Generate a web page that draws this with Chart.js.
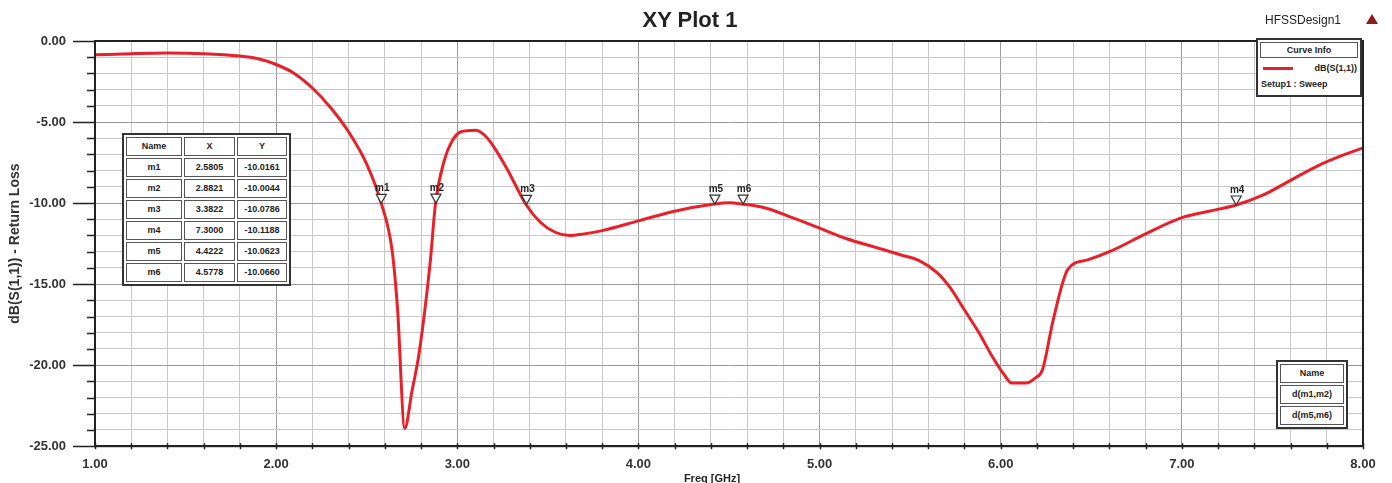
<!DOCTYPE html>
<html>
<head>
<meta charset="utf-8">
<script src="https://cdn.jsdelivr.net/npm/chart.js@4.4.1/dist/chart.umd.min.js"></script>
<style>
  html, body { margin: 0; padding: 0; background: #fff; overflow: hidden; }
  #wrap { position: relative; width: 1392px; height: 483px; font-family: "Liberation Sans", Arial, sans-serif; color: #222; }
  #plot { position: absolute; left: 0; top: 0; }
  .plotTitle { position: absolute; left: 0; width: 1380px; top: 7px; text-align: center; font-size: 22px; font-weight: bold; }
  .design { position: absolute; left: 1265px; top: 13px; font-size: 12px; }
  .tri { position: absolute; left: 1366px; top: 14px; width: 0; height: 0;
         border-left: 6px solid transparent; border-right: 6px solid transparent; border-bottom: 10px solid #8b1a1a; }
  .xTitle { position: absolute; left: 652px; width: 120px; top: 472px; text-align: center; font-size: 11px; font-weight: bold; }
  table.box { position: absolute; border: 2px solid #333; border-collapse: separate; border-spacing: 2px;
              background: #fff; font-size: 9px; font-weight: bold; }
  table.box td { border: 1px solid #555; height: 17px; line-height: 17px; padding: 0 2px; text-align: center; white-space: nowrap; }
  .curveInfo { position: absolute; left: 1256px; top: 38px; width: 102px; height: 55px; border: 2px solid #333;
               background: #fff; font-size: 9px; font-weight: bold; }
  .curveInfo .hd { margin: 2px; border: 1px solid #555; height: 14px; line-height: 14px; text-align: center; }
  .curveInfo .row { position: relative; height: 16px; line-height: 16px; }
  .curveInfo .swatch { position: absolute; left: 5px; top: 7px; width: 30px; height: 3px; background: #e8202a; }
  .curveInfo .lbl { position: absolute; right: 3px; top: 0; }
  .curveInfo .setup { padding-left: 3px; height: 16px; line-height: 16px; }
</style>
</head>
<body>
<div id="wrap">
  <canvas id="plot" width="1392" height="483"></canvas>
  <div class="plotTitle">XY Plot 1</div>
  <div class="design">HFSSDesign1</div>
  <div class="tri"></div>
  <div class="xTitle">Freq [GHz]</div>
  <table class="box" id="markerTable" style="left:122px; top:133px;"></table>
  <div class="curveInfo">
    <div class="hd">Curve Info</div>
    <div class="row"><span class="swatch"></span><span class="lbl">dB(S(1,1))</span></div>
    <div class="setup">Setup1 : Sweep</div>
  </div>
  <table class="box" id="deltaTable" style="left:1276px; top:360px;"></table>
</div>
<script>
// S11 sweep
const freq = [1.00, 1.20, 1.40, 1.60, 1.80, 1.90, 2.00, 2.10, 2.20, 2.30, 2.40, 2.50, 2.58, 2.64, 2.67, 2.71,
              2.75, 2.79, 2.85, 2.88, 2.93, 2.97, 3.02, 3.10, 3.15, 3.20, 3.28, 3.38, 3.46, 3.54, 3.62, 3.70,
              3.80, 4.00, 4.20, 4.42, 4.50, 4.58, 4.70, 4.85, 5.00, 5.15, 5.30, 5.45, 5.55, 5.65, 5.72, 5.80,
              5.88, 5.95, 6.02, 6.06, 6.14, 6.19, 6.23, 6.29, 6.37, 6.48, 6.62, 6.80, 7.00, 7.15, 7.30, 7.45,
              7.60, 7.75, 7.90, 8.00];
const s11 = [-0.85, -0.78, -0.74, -0.78, -0.93, -1.10, -1.45, -2.0, -2.9, -4.1, -5.6, -7.6, -10.0, -12.9, -16.5, -23.9,
             -21.6, -19.2, -13.7, -10.0, -7.3, -6.2, -5.6, -5.5, -5.8, -6.5, -8.0, -10.1, -11.2, -11.8, -12.0, -11.9,
             -11.7, -11.1, -10.5, -10.06, -9.98, -10.07, -10.3, -10.9, -11.55, -12.2, -12.7, -13.2, -13.55, -14.3, -15.2, -16.6,
             -18.0, -19.4, -20.6, -21.1, -21.1, -20.8, -20.3, -17.2, -14.1, -13.5, -12.9, -11.9, -10.9, -10.5, -10.12, -9.5,
             -8.6, -7.7, -7.0, -6.6];

// markers
const markerNames = ['m1', 'm2', 'm3', 'm4', 'm5', 'm6'];
const markerX = [2.5805, 2.8821, 3.3822, 7.3000, 4.4222, 4.5778];
const markerY = [-10.0161, -10.0044, -10.0786, -10.1188, -10.0623, -10.0660];
const deltaNames = ['d(m1,m2)', 'd(m5,m6)'];

const isWhole = (v, step) => Math.abs(v / step - Math.round(v / step)) < 1e-6;

// marker table
let html = '<tr><td style="width:50px">Name</td><td style="width:45px">X</td><td style="width:44px">Y</td></tr>';
markerNames.forEach((n, i) => {
    html += `<tr><td>${n}</td><td>${markerX[i].toFixed(4)}</td><td>${markerY[i].toFixed(4)}</td></tr>`;
});
document.getElementById('markerTable').innerHTML = html;

let dhtml = '<tr><td style="width:58px">Name</td></tr>';
deltaNames.forEach(n => { dhtml += `<tr><td>${n}</td></tr>`; });
document.getElementById('deltaTable').innerHTML = dhtml;

// frame, tick marks and marker triangles
const hfssExtras = {
    id: 'hfssExtras',
    afterDraw(chart) {
        const { ctx, chartArea: a, scales: { x, y } } = chart;
        ctx.save();
        ctx.strokeStyle = '#222';
        ctx.lineWidth = 2;
        ctx.strokeRect(a.left, a.top, a.right - a.left, a.bottom - a.top);

        ctx.lineWidth = 1.5;
        y.ticks.forEach(t => {
            const py = Math.round(y.getPixelForValue(t.value)) + 0.5;
            const len = isWhole(t.value, 5) ? 22 : 8;
            ctx.beginPath();
            ctx.moveTo(a.left - len, py);
            ctx.lineTo(a.left, py);
            ctx.stroke();
        });
        x.ticks.forEach(t => {
            const px = Math.round(x.getPixelForValue(t.value)) + 0.5;
            ctx.beginPath();
            ctx.moveTo(px, a.bottom - 3);
            ctx.lineTo(px, a.bottom + 3);
            ctx.stroke();
        });

        ctx.font = 'bold 10px "Liberation Sans", Arial, sans-serif';
        ctx.textAlign = 'center';
        ctx.textBaseline = 'bottom';
        markerNames.forEach((n, i) => {
            const px = x.getPixelForValue(markerX[i]);
            const py = y.getPixelForValue(markerY[i]);
            ctx.beginPath();
            ctx.moveTo(px, py);
            ctx.lineTo(px - 5, py - 9);
            ctx.lineTo(px + 5, py - 9);
            ctx.closePath();
            ctx.fillStyle = '#fff';
            ctx.fill();
            ctx.strokeStyle = '#333';
            ctx.lineWidth = 1.2;
            ctx.stroke();
            ctx.fillStyle = '#222';
            ctx.fillText(n, px + 1, py - 10);
        });
        ctx.restore();
    }
};

const points = freq.map((f, i) => ({ x: f, y: s11[i] }));

new Chart(document.getElementById('plot').getContext('2d'), {
    type: 'line',
    data: {
        datasets: [{
            label: 'dB(S(1,1))',
            data: points,
            borderColor: '#e8202a',
            borderWidth: 3,
            pointRadius: 0,
            fill: false,
            cubicInterpolationMode: 'monotone'
        }]
    },
    options: {
        responsive: false,
        animation: false,
        devicePixelRatio: 1,
        layout: { padding: { top: 41, right: 29, left: 0, bottom: 0 } },
        plugins: { legend: { display: false }, tooltip: { enabled: false }, title: { display: false } },
        scales: {
            x: {
                type: 'linear',
                min: 1,
                max: 8,
                afterFit: s => { s.height = 31; },
                ticks: {
                    stepSize: 0.2,
                    autoSkip: false,
                    maxRotation: 0,
                    padding: 10,
                    color: '#333',
                    font: { size: 13, weight: 'bold', family: '"Liberation Sans", Arial, sans-serif' },
                    callback: v => isWhole(v, 1) ? Number(v).toFixed(2) : ''
                },
                grid: {
                    drawTicks: false,
                    lineWidth: 1,
                    color: c => isWhole(c.tick.value, 1) ? '#9a9a9a' : '#c8c8c8'
                },
                border: { display: true, color: '#222', width: 2 }
            },
            y: {
                min: -25,
                max: 0,
                afterFit: s => { s.width = 95; },
                ticks: {
                    stepSize: 1,
                    autoSkip: false,
                    padding: 29,
                    color: '#333',
                    font: { size: 13, weight: 'bold', family: '"Liberation Sans", Arial, sans-serif' },
                    callback: v => isWhole(v, 5) ? Number(v).toFixed(2) : ''
                },
                grid: {
                    drawTicks: false,
                    lineWidth: 1,
                    color: c => isWhole(c.tick.value, 5) ? '#9a9a9a' : '#c8c8c8'
                },
                border: { display: true, color: '#222', width: 2 },
                title: {
                    display: true,
                    text: 'dB(S(1,1)) - Return Loss',
                    color: '#333',
                    padding: { top: 7, bottom: 0 },
                    font: { size: 14, weight: 'bold', family: '"Liberation Sans", Arial, sans-serif' }
                }
            }
        }
    },
    plugins: [hfssExtras]
});
</script>
</body>
</html>
